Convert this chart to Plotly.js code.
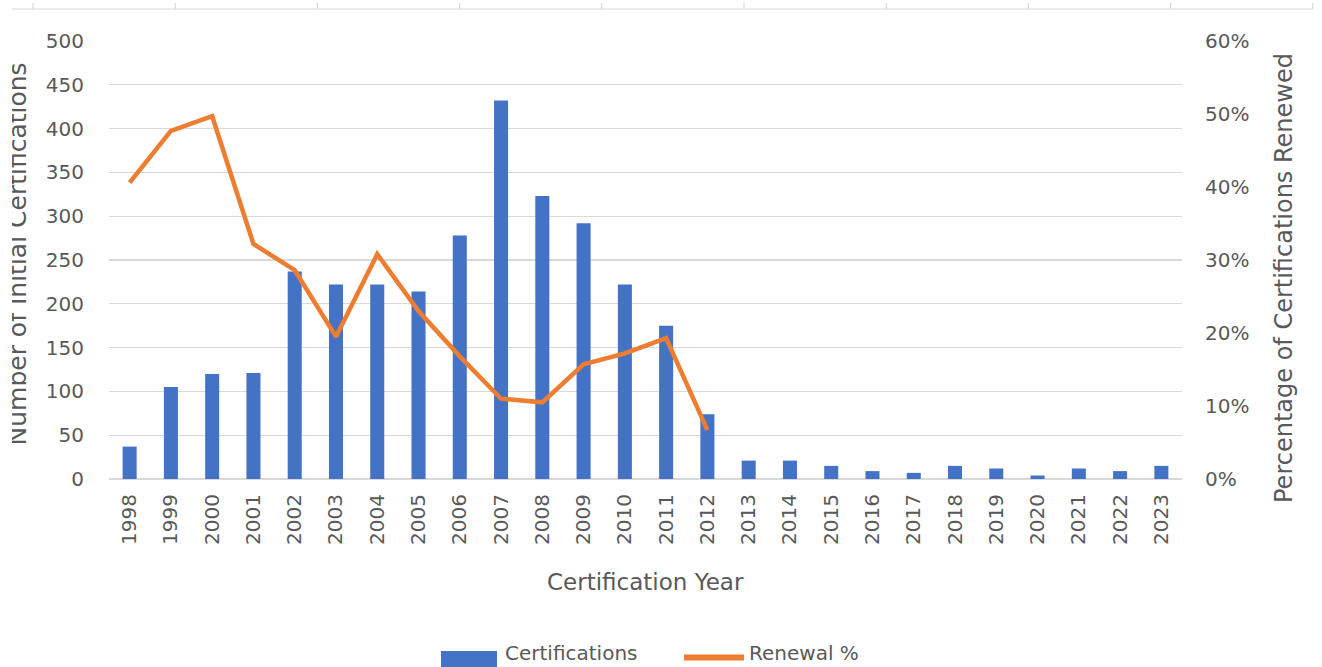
<!DOCTYPE html>
<html>
<head>
<meta charset="utf-8">
<script src="https://cdn.plot.ly/plotly-3.0.1.min.js"></script>
<style>
html,body{margin:0;padding:0;background:#fff;}
#wrap{position:relative;width:1322px;height:667px;overflow:hidden;}
#chart{width:1322px;height:667px;}
#edge{position:absolute;left:0;top:0;width:12px;height:667px;background:#fff;}
</style>
</head>
<body>
<div id="wrap"><div id="chart"></div><div id="edge"></div></div>
<script>
var years = ['1998','1999','2000','2001','2002','2003','2004','2005','2006','2007','2008','2009','2010','2011','2012','2013','2014','2015','2016','2017','2018','2019','2020','2021','2022','2023'];
var certifications = [37,105,120,121,237,222,222,214,278,432,323,292,222,175,74,21,21,15,9,7,15,12,4,12,9,15];
var renewalPct = [0.406,0.477,0.497,0.322,0.286,0.195,0.308,0.230,0.168,0.110,0.105,0.157,0.172,0.193,0.067,null,null,null,null,null,null,null,null,null,null,null];
var leftTicks = [0,50,100,150,200,250,300,350,400,450,500];
var rightTicks = [0,0.1,0.2,0.3,0.4,0.5,0.6];
var seriesNames = ['Certifications','Renewal %'];
var titles = {x:'Certification Year', y1:'Number of Initial Certifications', y2:'Percentage of Certifications Renewed'};

var W = 1322, H = 667, L = 109, R = 140, T = 41, B = 188;
var PW = W - L - R, PH = H - T - B;
function px(x){ return (x - L) / PW; }
function py(y){ return (H - B - y) / PH; }

var FONT = 'DejaVu Sans, sans-serif';
var TXT = '#595959';
var GRID = '#D9D9D9';
var BLUE = '#4472C4';
var ORANGE = '#ED7D31';

var traces = [
  {type:'bar', x:years, y:certifications, name:seriesNames[0], marker:{color:BLUE}, yaxis:'y', hoverinfo:'x+y'},
  {type:'scatter', mode:'lines', x:years, y:renewalPct, name:seriesNames[1], line:{color:ORANGE, width:4.5}, yaxis:'y2', connectgaps:false}
];

var shapes = [];
// partial frame line of the chart above (cropped in the picture)
shapes.push({type:'line', xref:'paper', yref:'paper', x0:px(10), x1:px(1313), y0:py(9), y1:py(9), line:{color:GRID, width:1.2}});
for (var k = 0; k < 10; k++) {
  var tx = 33 + 142.2 * k;
  shapes.push({type:'line', xref:'paper', yref:'paper', x0:px(tx), x1:px(tx), y0:py(3), y1:py(9), line:{color:GRID, width:1.2}});
}
// custom legend
shapes.push({type:'rect', xref:'paper', yref:'paper', x0:px(441), x1:px(497), y0:py(651), y1:py(672), fillcolor:BLUE, line:{width:0}});
shapes.push({type:'line', xref:'paper', yref:'paper', x0:px(684), x1:px(744), y0:py(657.5), y1:py(657.5), line:{color:ORANGE, width:6}});

var annotations = [
  {text:titles.x, xref:'paper', yref:'paper', x:px(645), y:py(582), xanchor:'center', yanchor:'middle', showarrow:false, font:{family:FONT, size:23, color:TXT}},
  {text:titles.y1, xref:'paper', yref:'paper', x:px(17.5), y:py(254), xanchor:'center', yanchor:'middle', textangle:-90, showarrow:false, font:{family:FONT, size:25, color:TXT}},
  {text:titles.y2, xref:'paper', yref:'paper', x:px(1284), y:py(278), xanchor:'center', yanchor:'middle', textangle:-90, showarrow:false, font:{family:FONT, size:24, color:TXT}},
  {text:seriesNames[0], xref:'paper', yref:'paper', x:px(503), y:py(653), xanchor:'left', yanchor:'middle', showarrow:false, font:{family:FONT, size:20, color:TXT}},
  {text:seriesNames[1], xref:'paper', yref:'paper', x:px(747), y:py(653), xanchor:'left', yanchor:'middle', showarrow:false, font:{family:FONT, size:20, color:TXT}}
];

var layout = {
  width:W, height:H,
  margin:{l:L, r:R, t:T, b:B, pad:0},
  paper_bgcolor:'#fff', plot_bgcolor:'#fff',
  showlegend:false,
  bargap:0.66,
  font:{family:FONT, color:TXT, size:20},
  xaxis:{type:'category', categoryorder:'array', categoryarray:years, tickangle:-90, ticks:'', showgrid:false, showline:false, zeroline:false, ticklabelstandoff:10, tickfont:{family:FONT, size:20, color:TXT}, automargin:false, fixedrange:true},
  yaxis:{range:[0,500], tickvals:leftTicks, ticks:'', showgrid:true, gridcolor:GRID, gridwidth:1.2, zeroline:true, zerolinecolor:GRID, zerolinewidth:1.2, showline:false, ticklabelstandoff:24, tickfont:{family:FONT, size:20, color:TXT}, automargin:false, fixedrange:true},
  yaxis2:{range:[0,0.6], tickvals:rightTicks, tickformat:'.0%', overlaying:'y', side:'right', ticks:'', showgrid:false, zeroline:false, showline:false, ticklabelstandoff:22, tickfont:{family:FONT, size:20, color:TXT}, automargin:false, fixedrange:true},
  shapes:shapes,
  annotations:annotations
};

Plotly.newPlot('chart', traces, layout, {displayModeBar:false, staticPlot:true});
</script>
</body>
</html>
